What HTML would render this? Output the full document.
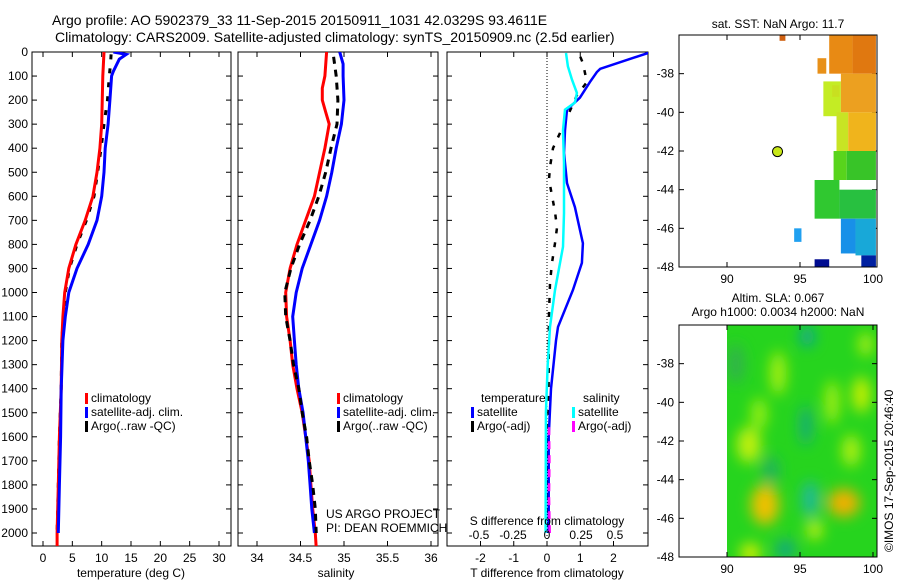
<!DOCTYPE html>
<html><head><meta charset="utf-8">
<style>
html,body{margin:0;padding:0;background:#fff;}
svg{display:block;font-family:"Liberation Sans",sans-serif;}
text{fill:#000;}
</style></head>
<body>
<svg id="fig" width="900" height="580" viewBox="0 0 900 580" xmlns="http://www.w3.org/2000/svg">
<defs>
<filter id="blur" x="-50%" y="-50%" width="200%" height="200%"><feGaussianBlur stdDeviation="7"/></filter>
<clipPath id="clip1"><rect x="32" y="52" width="199" height="494"/></clipPath>
<clipPath id="clip2"><rect x="238" y="52" width="200" height="494"/></clipPath>
<clipPath id="clip3"><rect x="447" y="52" width="201" height="494"/></clipPath>
<clipPath id="clipm2"><rect x="727" y="325" width="150" height="232"/></clipPath>
</defs>
<text x="52" y="25" font-size="14">Argo profile: AO 5902379_33 11-Sep-2015 20150911_1031 42.0329S 93.4611E</text>
<text x="55" y="42" font-size="14">Climatology: CARS2009. Satellite-adjusted climatology: synTS_20150909.nc (2.5d earlier)</text>
<g id="g1"></g>
<g id="g2"></g>
<g id="g3"></g>
<g id="m1"></g>
<g id="m2"></g>
<text transform="translate(893,552) rotate(-90)" font-size="12">©IMOS 17-Sep-2015 20:46:40</text>
</svg>
<script>
// ---- data ----
const depthTicks = [0,100,200,300,400,500,600,700,800,900,1000,1100,1200,1300,1400,1500,1600,1700,1800,1900,2000];
const tempTicks = [0,5,10,15,20,25,30];
const salTicks = [34,34.5,35,35.5,36];
const salTickLabels = ["34","34.5","35","35.5","36"];
const tdTicks = [-2,-1,0,1,2];
const sdTicks = [-0.5,-0.25,0,0.25,0.5];
const sdTickLabels = ["-0.5","-0.25","0","0.25","0.5"];

const tDepth = [0,100,300,400,500,600,700,800,900,1000,1100,1200,1400,1600,1800,2000,2060];
const tClim = [10.4,10.2,10.0,9.7,9.2,8.5,7.2,5.6,4.4,3.7,3.4,3.2,3.1,2.8,2.6,2.4,2.4];
const tSatDepth = [0,10,30,80,100,200,300,400,500,600,700,800,900,1000,1100,1200,1400,1600,1800,2000];
const tSat = [12.0,14.2,13.0,12.0,11.7,11.4,11.1,10.6,10.4,10.0,9.2,7.7,5.8,4.4,3.8,3.4,3.1,3.0,2.8,2.6];
const tArgoDepth = [10,50,100,200,300,400,500,600,700,800,900,1000,1200,1400,1600,1800,2000];
const tArgo = [11.6,11.5,11.3,11.0,10.4,9.9,9.3,8.7,7.4,5.8,4.5,3.8,3.2,3.1,2.8,2.6,2.4];

const sDepth = [0,100,150,200,250,300,400,500,600,700,800,900,1000,1100,1200,1300,1400,1500,1600,1700,1800,1900,2000,2060];
const sClim = [34.80,34.78,34.75,34.75,34.79,34.83,34.78,34.72,34.66,34.56,34.46,34.38,34.33,34.34,34.38,34.41,34.46,34.52,34.56,34.60,34.62,34.64,34.67,34.68];
const sSatDepth = [0,50,100,200,300,400,500,600,700,800,900,1000,1100,1200,1300,1400,1500,1600,1700,1800,1900,2000];
const sSat = [34.95,34.99,34.99,35.00,34.97,34.91,34.86,34.80,34.72,34.62,34.52,34.45,34.41,34.43,34.45,34.48,34.53,34.56,34.59,34.61,34.63,34.66];
const sArgoDepth = [20,100,200,300,400,500,600,700,800,900,1000,1100,1200,1300,1400,1500,1600,1700,1800,1900,2000];
const sArgo = [34.88,34.91,34.93,34.92,34.85,34.79,34.71,34.61,34.49,34.39,34.32,34.33,34.38,34.42,34.48,34.52,34.57,34.60,34.64,34.67,34.68];

const dTSatDepth = [0,4,70,83,125,190,240,325,420,545,645,795,877,990,1143,1200,1400,1600,2000];
const dTSat = [3.5,3.04,1.6,1.5,1.29,0.99,0.6,0.54,0.51,0.6,0.84,1.08,1.05,0.78,0.33,0.27,0.12,0.05,0.05];
const dTArgoDepth = [20,46,125,180,337,400,478,530,665,730,795,877,960,1090,1300,1600,2000];
const dTArgo = [1.0,1.08,1.2,0.9,0.39,0.18,0.09,0.06,0.24,0.3,0.24,0.15,0.09,0.06,0.05,0.04,0.04];
const dSSatDepth = [4,60,115,170,210,240,325,460,670,810,990,1143,1300,1500,2000];
const dSSat = [0.14,0.154,0.184,0.22,0.206,0.132,0.118,0.125,0.125,0.118,0.059,0.022,0.005,-0.008,-0.01];
const dSArgoDepth = [1560,1700,1850,2000];
const dSArgo = [0.015,0.018,0.015,0.02];

const latTicks = [-38,-40,-42,-44,-46,-48];
const lonTicks = [90,95,100];

// ---- helpers ----
const NS = "http://www.w3.org/2000/svg";
function mk(parent, tag, attrs){const e=document.createElementNS(NS,tag);for(const k in attrs)e.setAttribute(k,attrs[k]);parent.appendChild(e);return e;}
const Y0=52, Y1=546, yPerM=(533-52)/2000;
const yD = d => Y0 + d*yPerM;
const xT = v => 43 + v*(219-43)/30;
const xS = v => 257 + (v-34)*(431-257)/2;
const xD = v => 547 + v*(613-480)/4;
const xDS = v => 547 + v*136;

function line(g, xs, ds, fx, color, w, dash, clip, name){
  const pts = xs.map((v,i)=>fx(v).toFixed(1)+","+yD(ds[i]).toFixed(1)).join(" ");
  const p = mk(g,"polyline",{points:pts,fill:"none",stroke:color,"stroke-width":w,"clip-path":"url(#"+clip+")"});
  if(dash) p.setAttribute("stroke-dasharray",dash);
  
  
}
function frame(g,x,w,name){
  const r = mk(g,"rect",{x:x,y:Y0,width:w,height:Y1-Y0,fill:"none",stroke:"#000","stroke-width":1});
  
  
  depthTicks.forEach(d=>{
    mk(g,"line",{x1:x,x2:x+5,y1:yD(d),y2:yD(d),stroke:"#000"});
    mk(g,"line",{x1:x+w-5,x2:x+w,y1:yD(d),y2:yD(d),stroke:"#000"});
  });
}
function xticks(g,vals,labels,fx,name){
  vals.forEach((v,i)=>{
    const x=fx(v);
    mk(g,"line",{x1:x,x2:x,y1:Y1,y2:Y1-5,stroke:"#000"});
    mk(g,"line",{x1:x,x2:x,y1:Y0,y2:Y0+5,stroke:"#000"});
    const t=mk(g,"text",{x:x,y:562,"font-size":12,"text-anchor":"middle"});
    t.textContent=labels[i];
    
    
  });
}
function txt(g,x,y,s,size,name,anchor){
  const t=mk(g,"text",{x:x,y:y,"font-size":size||12});
  if(anchor) t.setAttribute("text-anchor",anchor);
  t.textContent=s;
  
  
  return t;
}
function legend(g,x,y,color,label,name){
  const r=mk(g,"rect",{x:x,y:y-9,width:3,height:11,fill:color});
  
  
  txt(g,x+6,y,label,12,name);
}

// ---- panel 1 ----
const g1=document.getElementById("g1");
frame(g1,32,199,"temperature-axes-frame");
depthTicks.forEach(d=>{
  txt(g1,28,yD(d)+4,String(d),12,"depth-tick-label","end");
});
xticks(g1,tempTicks,tempTicks.map(String),xT,"temperature-tick-label");
line(g1,tArgo,tArgoDepth,xT,"#000",3,"5,9","clip1","temperature-argo-line");
line(g1,tClim,tDepth,xT,"#f00",3,null,"clip1","temperature-climatology-line");
line(g1,tSat,tSatDepth,xT,"#00f",3,null,"clip1","temperature-satellite-line");
txt(g1,131,577,"temperature (deg C)",12,"temperature-axis-title","middle");
legend(g1,85,402,"#f00","climatology","legend-climatology");
legend(g1,85,416,"#00f","satellite-adj. clim.","legend-satellite-adj");
legend(g1,85,430,"#000","Argo(..raw -QC)","legend-argo-raw");

// ---- panel 2 ----
const g2=document.getElementById("g2");
frame(g2,238,200,"salinity-axes-frame");
xticks(g2,salTicks,salTickLabels,xS,"salinity-tick-label");
line(g2,sClim,sDepth,xS,"#f00",3,null,"clip2","salinity-climatology-line");
line(g2,sSat,sSatDepth,xS,"#00f",3,null,"clip2","salinity-satellite-line");
line(g2,sArgo,sArgoDepth,xS,"#000",3,"7,6","clip2","salinity-argo-line");
txt(g2,336,577,"salinity",12,"salinity-axis-title","middle");
legend(g2,337,402,"#f00","climatology","legend-climatology-2");
legend(g2,337,416,"#00f","satellite-adj. clim.","legend-satellite-adj-2");
legend(g2,337,430,"#000","Argo(..raw -QC)","legend-argo-raw-2");
txt(g2,326,518,"US ARGO PROJECT",12,"project-label");
txt(g2,326,532,"PI: DEAN ROEMMICH",12,"pi-label");

// ---- panel 3 ----
const g3=document.getElementById("g3");
frame(g3,447,201,"difference-axes-frame");
xticks(g3,tdTicks,tdTicks.map(String),xD,"t-difference-tick-label");
mk(g3,"line",{x1:547,x2:547,y1:Y0,y2:Y1,stroke:"#000","stroke-dasharray":"1,2"});
line(g3,dTArgo,dTArgoDepth,xD,"#000",2.5,"5,9","clip3","t-diff-argo-line");
line(g3,dTSat,dTSatDepth,xD,"#00f",2.5,null,"clip3","t-diff-satellite-line");
line(g3,dSSat,dSSatDepth,xDS,"#0ff",2.5,null,"clip3","s-diff-satellite-line");
line(g3,dSArgo,dSArgoDepth,xDS,"#f0f",2.5,"8,6","clip3","s-diff-argo-line");
txt(g3,481,402,"temperature",12,"legend-temperature-header");
txt(g3,583,402,"salinity",12,"legend-salinity-header");
legend(g3,471,416,"#00f","satellite","legend-t-satellite");
legend(g3,471,430,"#000","Argo(-adj)","legend-t-argo");
legend(g3,572,416,"#0ff","satellite","legend-s-satellite");
legend(g3,572,430,"#f0f","Argo(-adj)","legend-s-argo");
txt(g3,547,525,"S difference from climatology",12,"s-difference-axis-title","middle");
sdTicks.forEach((v,i)=>txt(g3,xDS(v),539,sdTickLabels[i],12,"s-difference-tick-label","middle"));
txt(g3,547,577,"T difference from climatology",12,"t-difference-axis-title","middle");

// ---- maps ----
const mapX = lon => 727 + (lon-90)*14.6;
function mapFrame(g,top,bottom,name){
  const yL = lat => bottom - (lat+48)*(bottom-top)/12;
  latTicks.forEach(l=>{
    mk(g,"line",{x1:679,x2:684,y1:yL(l),y2:yL(l),stroke:"#000"});
    mk(g,"line",{x1:872,x2:877,y1:yL(l),y2:yL(l),stroke:"#000"});
    txt(g,674,yL(l)+4,String(l),12,name+"-lat-tick","end");
  });
  lonTicks.forEach(l=>{
    mk(g,"line",{x1:mapX(l),x2:mapX(l),y1:bottom,y2:bottom-5,stroke:"#000"});
    mk(g,"line",{x1:mapX(l),x2:mapX(l),y1:top,y2:top+5,stroke:"#000"});
    txt(g,mapX(l),bottom+16,String(l),12,name+"-lon-tick","middle");
  });
  return yL;
}
// SST map cells
const sstLon0 = [97.0,98.6,96.6,97.8,97.5,98.3,97.3,98.2,96.0,97.7,97.8,98.8,94.6,96.0,99.2,93.6,96.2,97.2];
const sstLon1 = [98.6,100.2,97.8,100.2,98.3,100.2,98.2,100.2,97.7,100.2,98.8,100.2,95.1,97.0,100.2,94.0,96.8,97.7];
const sstLatT = [-36,-36,-38.4,-38,-40,-40,-42,-42,-43.5,-44,-45.5,-45.5,-46,-47.6,-47.4,-36,-37.2,-38.6];
const sstLatB = [-38,-38,-40.2,-40,-42,-42,-43.5,-43.5,-45.5,-45.5,-47.3,-47.4,-46.7,-48,-48,-36.3,-38,-39.2];
const sstCol = ["#e88a14","#e07810","#c4ec24","#eca020","#c8e424","#f0b41c","#58d41c","#38c428","#30c830","#28c040","#1890e8","#18a8d8","#20a0f0","#000c90","#0020a0","#d06010","#e89018","#c8e020"];
const m1=document.getElementById("m1");
txt(m1,778,28,"sat. SST: NaN Argo: 11.7",12,"sst-map-title","middle");
const yL1 = mapFrame(m1,35,267,"sst-map");
sstCol.forEach((c,i)=>{
  const r=mk(m1,"rect",{x:mapX(sstLon0[i]),y:yL1(sstLatT[i]),width:mapX(sstLon1[i])-mapX(sstLon0[i]),height:yL1(sstLatB[i])-yL1(sstLatT[i]),fill:c});
  
  
});
mk(m1,"rect",{x:679,y:35,width:198,height:232,fill:"none",stroke:"#000"});
const dot=mk(m1,"circle",{cx:mapX(93.46),cy:yL1(-42.03),r:5,fill:"#c8e818",stroke:"#000"});



// SLA map blobs
const slaLon = [91.5,92.6,91.6,95.7,95.5,98.0,99.2,93.5,92.2,97.2,96.0,99.5,95.4,94.0,93.0,98.5,90.6];
const slaLat = [-42.2,-45.3,-47.8,-45.0,-36.6,-45.2,-39.6,-38.5,-40.6,-40.0,-46.6,-37.0,-41.2,-47.6,-43.5,-42.5,-38.0];
const slaRx = [12,14,10,8,7,16,9,8,8,7,8,7,6,10,8,9,8];
const slaRy = [18,20,10,18,10,14,18,22,16,22,10,12,20,10,14,16,20];
const slaCol = ["#c0f010","#f0c000","#d8f000","#20b8a0","#10a0a0","#f0b000","#c8f000","#a8f010","#98f010","#a8f010","#c0f010","#b0f010","#18a880","#18a880","#20b060","#b0f010","#30b050"];
const m2=document.getElementById("m2");
txt(m2,778,302,"Altim. SLA: 0.067",12,"sla-map-title","middle");
txt(m2,778,316,"Argo h1000: 0.0034 h2000: NaN",12,"sla-map-subtitle","middle");
const bg=mk(m2,"rect",{x:727,y:325,width:150,height:232,fill:"#26d41e"});


const bl=mk(m2,"g",{"clip-path":"url(#clipm2)"});
const bl2=mk(bl,"g",{filter:"url(#blur)"});
slaCol.forEach((c,i)=>{
  const e=mk(bl2,"ellipse",{cx:mapX(slaLon[i]),cy:(557-(slaLat[i]+48)*232/12),rx:slaRx[i],ry:slaRy[i],fill:c});
  
  
});
mapFrame(m2,325,557,"sla-map");
mk(m2,"rect",{x:679,y:325,width:198,height:232,fill:"none",stroke:"#000"});
</script>
</body></html>
